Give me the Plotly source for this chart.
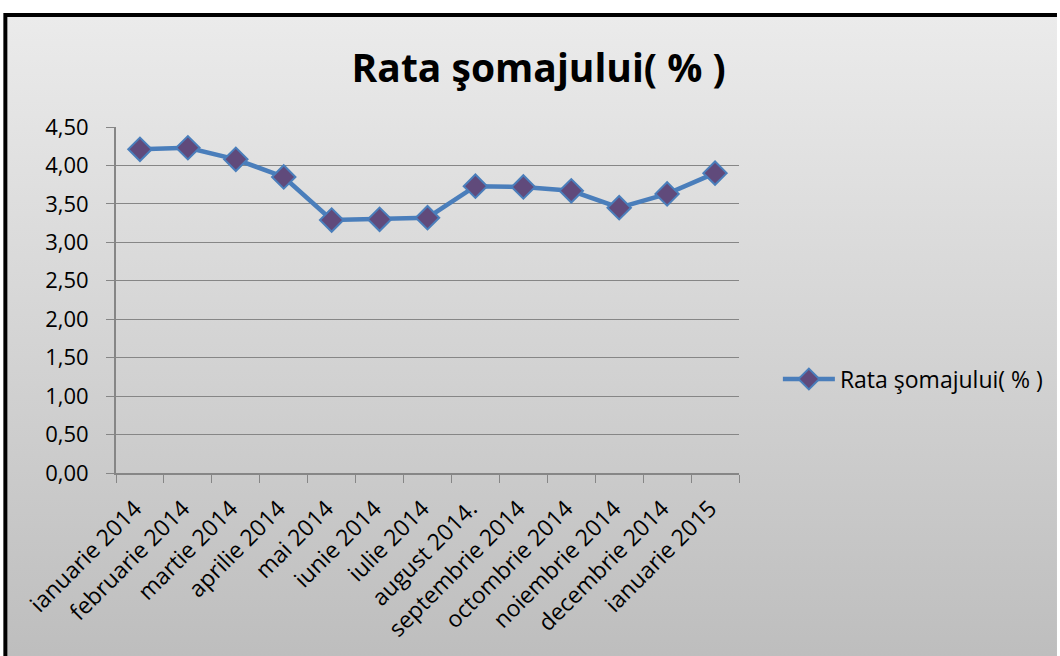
import plotly.graph_objects as go
import base64

categories = ["ianuarie 2014", "februarie 2014", "martie 2014", "aprilie 2014", "mai 2014",
              "iunie 2014", "iulie 2014", "august 2014.", "septembrie 2014", "octombrie 2014",
              "noiembrie 2014", "decembrie 2014", "ianuarie 2015"]
values = [4.21, 4.23, 4.08, 3.85, 3.29, 3.30, 3.32, 3.73, 3.72, 3.67, 3.45, 3.63, 3.90]
series_name = "Rata şomajului( % )"
y_ticks = [0, 0.5, 1.0, 1.5, 2.0, 2.5, 3.0, 3.5, 4.0, 4.5]
y_tick_labels = ["0,00", "0,50", "1,00", "1,50", "2,00", "2,50", "3,00", "3,50", "4,00", "4,50"]

W, H = 1060, 656
L, R, T, B = 116, 741, 127, 473

svg = f'''<svg xmlns="http://www.w3.org/2000/svg" width="{W}" height="{H}" viewBox="0 0 {W} {H}">
<defs><linearGradient id="g" x1="0" y1="0" x2="0" y2="1">
<stop offset="0" stop-color="#ebebeb"/><stop offset="1" stop-color="#bcbcbc"/></linearGradient></defs>
<rect x="0" y="0" width="{W}" height="{H}" fill="#ffffff"/>
<rect x="5" y="15" width="{W+10}" height="{H+10}" fill="url(#g)" stroke="#000000" stroke-width="4"/>
</svg>'''
uri = "data:image/svg+xml;base64," + base64.b64encode(svg.encode()).decode()

fig = go.Figure()
fig.add_trace(go.Scatter(
    x=categories, y=values, name=series_name, mode="lines+markers",
    line=dict(color="#4a7ebb", width=4.5),
    marker=dict(symbol="diamond", size=18, color="#604a7b",
                line=dict(color="#4a7ebb", width=2)),
))

fig.update_layout(
    width=W, height=H,
    margin=dict(l=L, r=W - R, t=T, b=H - B, pad=0),
    paper_bgcolor="#ffffff",
    plot_bgcolor="#ffffff",
    images=[dict(source=uri, xref="paper", yref="paper",
                 x=-L / (R - L), y=1 + T / (B - T),
                 sizex=W / (R - L), sizey=H / (B - T),
                 xanchor="left", yanchor="top", sizing="stretch", layer="below")],
    title=dict(text="<b>Rata şomajului( % )</b>", xref="paper", x=(540 - L) / (R - L), xanchor="center",
               yref="container", y=1 - 68 / H, yanchor="middle",
               font=dict(family="Open Sans", size=39, color="#000000")),
    showlegend=True,
    legend=dict(x=(780 - L) / (R - L), y=(B - 379) / (B - T), xanchor="left", yanchor="middle",
                itemwidth=52,
                bgcolor="rgba(0,0,0,0)", font=dict(family="Open Sans", size=23, color="#000000")),
    font=dict(family="Open Sans", color="#000000"),
)
fig.update_xaxes(
    type="category", tickangle=-45, tickson="boundaries", ticks="outside", ticklen=8,
    tickcolor="#868686", showline=True, linecolor="#868686", linewidth=2,
    showgrid=False, tickfont=dict(family="Open Sans", size=23, color="#000000"),
    ticklabelstandoff=11, ticklabelshift=-5,
    range=[-0.5, len(categories) - 0.5],
)
fig.update_yaxes(
    range=[0, 4.5], tickvals=y_ticks, ticktext=y_tick_labels, ticks="outside", ticklen=8,
    tickcolor="#868686", showline=True, linecolor="#868686", linewidth=2,
    showgrid=True, gridcolor="#868686", gridwidth=1, zeroline=False,
    ticklabelstandoff=13,
    tickfont=dict(family="Open Sans", size=22, color="#000000"),
)
fig.write_html("out.html", config={"displayModeBar": False},
               post_script="document.body.style.margin='0';document.body.style.padding='0';")
